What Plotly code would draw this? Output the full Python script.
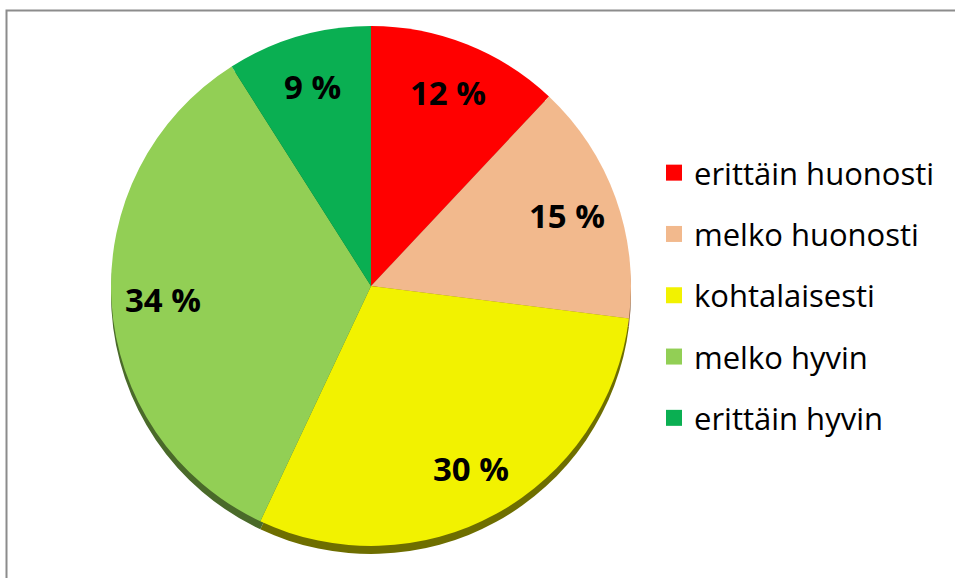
import math
import plotly.graph_objects as go

categories = ["erittäin huonosti", "melko huonosti", "kohtalaisesti", "melko hyvin", "erittäin hyvin"]
values = [12, 15, 30, 34, 9]
colors = ["#FF0000", "#F2B98D", "#F2F200", "#92CF55", "#0AAF52"]
edge_colors = ["#8A0000", "#8A6040", "#6E6E00", "#4A6A2A", "#05602C"]

W, H = 955, 578
cx, cy, R = 371, 286, 260
shadow = 8
label_r = 0.8

fig = go.Figure()

# 3D edge (darker copy slightly below)
fig.add_trace(go.Pie(
    labels=categories, values=values, sort=False, direction="clockwise", rotation=0,
    marker=dict(colors=edge_colors, line=dict(width=0)),
    textinfo="none", hoverinfo="skip", showlegend=False,
    domain=dict(x=[(cx - R) / W, (cx + R) / W],
                y=[(H - cy - R - shadow) / H, (H - cy + R - shadow) / H]),
))

fig.add_trace(go.Pie(
    labels=categories, values=values, sort=False, direction="clockwise", rotation=0,
    marker=dict(colors=colors, line=dict(width=0)),
    textinfo="none", showlegend=False,
    domain=dict(x=[(cx - R) / W, (cx + R) / W],
                y=[(H - cy - R) / H, (H - cy + R) / H]),
))

# data labels placed along each slice's mid-angle
total = sum(values)
cum = 0
annotations = []
for v in values:
    mid = (cum + v / 2) / total * 2 * math.pi
    cum += v
    px = cx + label_r * R * math.sin(mid)
    py = cy - label_r * R * math.cos(mid)
    annotations.append(dict(
        x=px / W, y=1 - py / H, xref="paper", yref="paper",
        text=f"{v} %", showarrow=False, xanchor="center", yanchor="middle",
        font=dict(family="Open Sans", size=33, color="black", weight="bold"),
    ))

# legend entries
for i, (cat, col) in enumerate(zip(categories, colors)):
    fig.add_trace(go.Scatter(
        x=[None], y=[None], mode="markers", name=cat,
        marker=dict(symbol="square", size=16, color=col),
        legendgroup=f"g{i}", showlegend=True,
    ))

fig.update_layout(
    width=W, height=H,
    margin=dict(l=0, r=0, t=0, b=0),
    paper_bgcolor="white", plot_bgcolor="white",
    xaxis=dict(visible=False), yaxis=dict(visible=False),
    annotations=annotations,
    legend=dict(x=654 / W, y=1 - 146 / H, xanchor="left", yanchor="top",
                font=dict(family="Open Sans", size=31, color="black"),
                tracegroupgap=18, itemwidth=30, bgcolor="rgba(0,0,0,0)"),
    shapes=[dict(type="rect", xref="paper", yref="paper",
                 x0=6.5 / W, x1=1.2, y0=-0.2, y1=(H - 10.5) / H,
                 line=dict(color="#8C8C8C", width=2), fillcolor="rgba(0,0,0,0)", layer="below")],
)

fig.write_html("out.html", config={"displayModeBar": False},
               post_script="document.body.style.margin='0';")
